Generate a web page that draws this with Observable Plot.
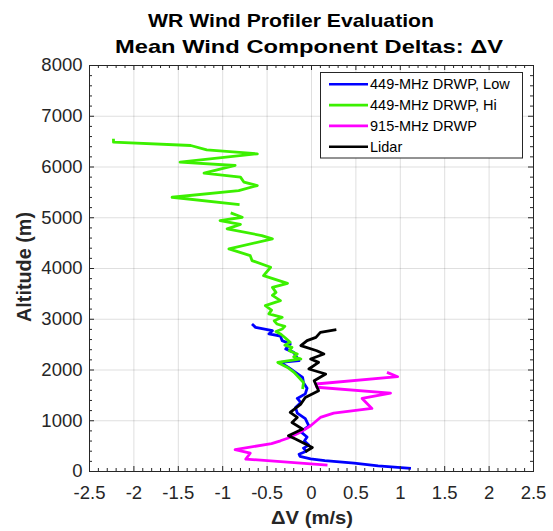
<!DOCTYPE html>
<html><head><meta charset="utf-8">
<script src="https://cdn.jsdelivr.net/npm/d3@7"></script>
<script src="https://cdn.jsdelivr.net/npm/@observablehq/plot@0.6"></script>
<style>
body{margin:0;background:#fff;font-family:"Liberation Sans",Arial,sans-serif;}
#wrap{position:relative;width:553px;height:531px;overflow:hidden;}
#wrap > svg{position:absolute;left:0;top:0;}
</style></head><body><div id="wrap"></div>
<script>
// ---- data ----
const xTicks = [-2.5, -2, -1.5, -1, -0.5, 0, 0.5, 1, 1.5, 2, 2.5];
const xTickLabels = ["-2.5", "-2", "-1.5", "-1", "-0.5", "0", "0.5", "1", "1.5", "2", "2.5"];
const yTicks = [0, 1000, 2000, 3000, 4000, 5000, 6000, 7000, 8000];
const yTickLabels = ["0", "1000", "2000", "3000", "4000", "5000", "6000", "7000", "8000"];
const seriesNames = ["449-MHz DRWP, Low", "449-MHz DRWP, Hi", "915-MHz DRWP", "Lidar"];
const seriesColors = ["#0000ff", "#3cf000", "#ff00ff", "#000000"];

// [deltaV (m/s), altitude (m)]
const low449 = [
  [1.12, 60], [0.75, 110], [0.48, 166], [0.15, 215], [-0.01, 250], [-0.13, 300], [-0.14, 340],
  [-0.06, 400], [-0.09, 460], [-0.03, 520], [-0.08, 600], [-0.05, 680], [-0.12, 780], [-0.03, 900],
  [-0.07, 1040], [-0.16, 1150], [-0.18, 1260], [-0.12, 1360], [-0.16, 1440], [-0.07, 1530],
  [-0.05, 1640], [-0.09, 1750], [-0.10, 1855], [-0.26, 2051], [-0.35, 2150], [-0.14, 2183],
  [-0.20, 2347], [-0.29, 2414], [-0.24, 2513], [-0.33, 2578], [-0.35, 2670], [-0.48, 2710],
  [-0.44, 2775], [-0.63, 2840], [-0.67, 2905]
];
const hi449 = [
  [-2.23, 6556], [-2.23, 6490], [-1.36, 6424], [-1.18, 6339], [-0.61, 6260], [-1.48, 6095],
  [-0.86, 6030], [-1.21, 5878], [-0.80, 5800], [-0.76, 5700], [-0.61, 5635], [-0.82, 5536],
  [-1.57, 5404], [-0.81, 5260],
  null,
  [-0.91, 5097], [-0.78, 5010], [-1.03, 4945], [-0.80, 4870], [-0.95, 4781], [-0.56, 4649],
  [-0.44, 4584], [-0.93, 4387], [-0.69, 4254], [-0.67, 4156], [-0.46, 4024], [-0.54, 3860],
  [-0.27, 3708], [-0.44, 3629], [-0.40, 3530], [-0.44, 3470], [-0.35, 3367], [-0.52, 3268],
  [-0.45, 3180], [-0.48, 3105], [-0.33, 3038], [-0.42, 2970], [-0.39, 2907], [-0.30, 2860],
  [-0.33, 2808], [-0.40, 2760], [-0.35, 2710], [-0.30, 2640], [-0.24, 2545], [-0.30, 2490],
  [-0.22, 2446], [-0.25, 2380], [-0.16, 2316], [-0.20, 2260], [-0.12, 2217], [-0.38, 2150],
  [-0.27, 2051], [-0.20, 1960], [-0.16, 1888], [-0.09, 1755], [-0.10, 1625]
];
const drwp915 = [
  [0.85, 1953], [0.97, 1868], [0.05, 1724], [0.06, 1660], [0.89, 1546], [0.57, 1440],
  [0.68, 1243], [0.25, 1151], [0.10, 1065], [-0.01, 901], [-0.12, 780], [-0.26, 660],
  [-0.35, 605], [-0.45, 550], [-0.86, 430], [-0.69, 360], [-0.74, 245], [0.18, 126]
];
const lidar = [
  [0.28, 2795], [0.10, 2742], [0.05, 2643], [-0.05, 2578], [-0.12, 2479], [0.06, 2380],
  [0.14, 2316], [-0.01, 2217], [0.08, 2150], [-0.03, 2020], [0.16, 1921], [0.03, 1789],
  [0.08, 1592], [-0.07, 1460], [-0.12, 1329], [-0.24, 1164], [-0.16, 1065], [-0.22, 966],
  [-0.10, 836], [-0.26, 704], [-0.18, 639], [-0.03, 507], [0.01, 474], [-0.07, 388]
];
const seriesData = [low449, hi449, drwp915, lidar];

// ---- chart ----
const axisColor = "#262626";
const xMinor = d3.range(-25, 26).map(i => i / 10).filter(v => !xTicks.includes(v));
const yMinor = d3.range(0, 41).map(i => i * 200).filter(v => !yTicks.includes(v));
const W = 553, H = 531, mT = 65, mB = 60, mL = 89, mR = 20;
const fw = W - mL - mR, fh = H - mT - mB;
const xLab = new Map(xTicks.map((v, i) => [v, xTickLabels[i]]));
const yLab = new Map(yTicks.map((v, i) => [v, yTickLabels[i]]));

const lineMarks = seriesData.map((data, i) => Plot.line(data, {
  x: d => d ? d[0] : NaN, y: d => d ? d[1] : NaN,
  stroke: seriesColors[i], strokeWidth: 2.8, strokeLinejoin: "round", strokeLinecap: "butt"
}));

const plot = Plot.plot({
  width: W, height: H,
  marginTop: mT, marginBottom: mB, marginLeft: mL, marginRight: mR,
  x: {domain: [-2.5, 2.5]},
  y: {domain: [0, 8000]},
  style: {fontSize: "18.5px", fontFamily: "'Liberation Sans', Arial, sans-serif", color: axisColor, background: "transparent"},
  marks: [
    Plot.gridX(xTicks, {stroke: axisColor, strokeOpacity: 0.15}),
    Plot.gridY(yTicks, {stroke: axisColor, strokeOpacity: 0.15}),
    ...lineMarks,
    Plot.frame({stroke: axisColor}),
    Plot.ruleX(xTicks, {x: d => d, insetTop: fh - 5, stroke: axisColor}),
    Plot.ruleX(xTicks, {x: d => d, insetBottom: fh - 5, stroke: axisColor}),
    Plot.ruleX(xMinor, {x: d => d, insetTop: fh - 3, stroke: axisColor}),
    Plot.ruleX(xMinor, {x: d => d, insetBottom: fh - 3, stroke: axisColor}),
    Plot.ruleY(yTicks, {y: d => d, insetRight: fw - 5, stroke: axisColor}),
    Plot.ruleY(yTicks, {y: d => d, insetLeft: fw - 5, stroke: axisColor}),
    Plot.ruleY(yMinor, {y: d => d, insetRight: fw - 3, stroke: axisColor}),
    Plot.ruleY(yMinor, {y: d => d, insetLeft: fw - 3, stroke: axisColor}),
    Plot.axisX(xTicks, {tickSize: 0, tickPadding: 14, tickFormat: d => xLab.get(d), label: null}),
    Plot.axisY(yTicks, {tickSize: 0, tickPadding: 7, tickFormat: d => yLab.get(d), label: null})
  ]
});
const wrap = document.getElementById("wrap");
wrap.appendChild(plot);

// ---- overlay: titles, axis labels, legend ----
const ov = d3.select(wrap).append("svg").attr("width", W).attr("height", H)
  .style("font-family", "'Liberation Sans', Arial, sans-serif");
const titles = [
  {t: "WR Wind Profiler Evaluation", x: 291, y: 26.5, len: 286},
  {t: "Mean Wind Component Deltas: \u0394V", x: 309, y: 53, len: 388}
];
titles.forEach(d => ov.append("text").attr("x", d.x).attr("y", d.y).attr("text-anchor", "middle")
  .attr("font-size", 19).attr("font-weight", "bold").attr("fill", "#000")
  .attr("textLength", d.len).attr("lengthAdjust", "spacingAndGlyphs").text(d.t));
ov.append("text").attr("x", 312).attr("y", 523.5).attr("text-anchor", "middle")
  .attr("font-size", 17.5).attr("font-weight", "bold").attr("fill", axisColor)
  .attr("textLength", 82).attr("lengthAdjust", "spacingAndGlyphs").text("\u0394V (m/s)");
ov.append("text").attr("transform", "translate(31,267) rotate(-90)").attr("text-anchor", "middle")
  .attr("font-size", 20.5).attr("font-weight", "bold").attr("fill", axisColor)
  .attr("textLength", 110).attr("lengthAdjust", "spacingAndGlyphs").text("Altitude (m)");

const lg = ov.append("g");
lg.append("rect").attr("x", 320.5).attr("y", 72.5).attr("width", 202).attr("height", 85.5)
  .attr("fill", "#fff").attr("stroke", axisColor).attr("stroke-width", 1);
seriesNames.forEach((name, i) => {
  const y = 84.3 + i * 20.8;
  lg.append("line").attr("x1", 329).attr("x2", 368).attr("y1", y).attr("y2", y)
    .attr("stroke", seriesColors[i]).attr("stroke-width", 2.6);
  lg.append("text").attr("x", 370).attr("y", y + 5).attr("font-size", 14.5).attr("fill", "#000")
    .text(name);
});
</script></body></html>
